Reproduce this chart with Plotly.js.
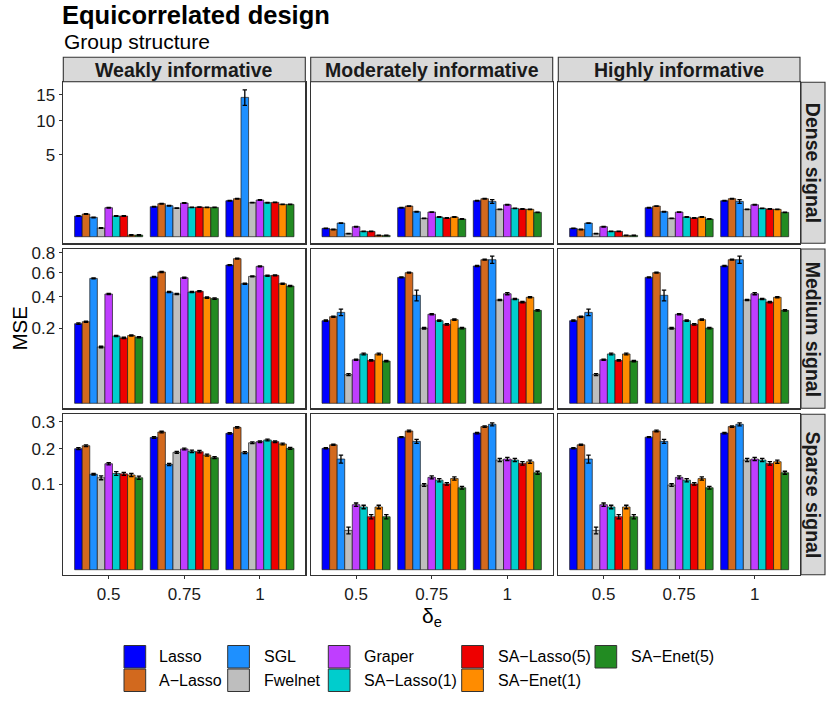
<!DOCTYPE html>
<html>
<head>
<meta charset="utf-8">
<script src="https://cdn.plot.ly/plotly-3.0.1.min.js"></script>
<style>html,body{margin:0;padding:0;background:#fff;}#chart{width:830px;height:703px;}</style>
</head>
<body>
<div id="chart"></div>
<script>
// ---------------- data ----------------
const deltas = ["0.5", "0.75", "1"];
const methods = ["Lasso", "A\u2212Lasso", "SGL", "Fwelnet", "Graper", "SA\u2212Lasso(1)", "SA\u2212Lasso(5)", "SA\u2212Enet(1)", "SA\u2212Enet(5)"];
const colors = ["#0000FF", "#D2691E", "#1E90FF", "#BEBEBE", "#BF3EFF", "#00CDCD", "#EE0000", "#FF8C00", "#228B22"];
const colLabels = ["Weakly informative", "Moderately informative", "Highly informative"];
const rowLabels = ["Dense signal", "Medium signal", "Sparse signal"];
const rowTicks = [[5, 10, 15], [0.2, 0.4, 0.6, 0.8], [0.1, 0.2, 0.3]];
const rowTickText = [["5", "10", "15"], ["0.2", "0.4", "0.6", "0.8"], ["0.1", "0.2", "0.3"]];

// each panel: rows = delta (0.5, 0.75, 1), columns = methods
const weakDense = [
  [0.319, 0.384, 0.279, 0.056, 0.628, 0.319, 0.319, 0.002, 0.002],
  [0.672, 0.813, 0.717, 0.613, 0.846, 0.642, 0.657, 0.642, 0.642],
  [0.968, 1.078, 14.49, 0.863, 1.004, 0.863, 0.880, 0.780, 0.780]];
const weakDenseErr = [
  [0.010, 0.012, 0.010, 0.004, 0.012, 0.010, 0.010, 0.001, 0.001],
  [0.012, 0.014, 0.012, 0.010, 0.014, 0.012, 0.012, 0.012, 0.012],
  [0.015, 0.016, 1.60, 0.012, 0.016, 0.014, 0.014, 0.012, 0.012]];
const weakMedium = [
  [0.224, 0.235, 0.551, 0.112, 0.422, 0.160, 0.151, 0.162, 0.154],
  [0.563, 0.609, 0.437, 0.422, 0.557, 0.437, 0.443, 0.394, 0.387],
  [0.675, 0.739, 0.505, 0.569, 0.662, 0.575, 0.578, 0.505, 0.486]];
const weakMediumErr = [
  [0.004, 0.004, 0.005, 0.003, 0.004, 0.003, 0.003, 0.003, 0.003],
  [0.005, 0.005, 0.005, 0.005, 0.005, 0.005, 0.005, 0.005, 0.005],
  [0.005, 0.005, 0.005, 0.005, 0.005, 0.005, 0.005, 0.005, 0.005]];
const weakSparse = [
  [0.201, 0.211, 0.125, 0.116, 0.154, 0.127, 0.126, 0.123, 0.116],
  [0.240, 0.260, 0.152, 0.189, 0.200, 0.192, 0.191, 0.180, 0.172],
  [0.255, 0.278, 0.188, 0.221, 0.225, 0.231, 0.225, 0.217, 0.202]];
const weakSparseErr = [
  [0.003, 0.003, 0.002, 0.005, 0.003, 0.005, 0.004, 0.004, 0.004],
  [0.003, 0.003, 0.003, 0.003, 0.003, 0.004, 0.004, 0.003, 0.003],
  [0.003, 0.003, 0.003, 0.003, 0.003, 0.003, 0.003, 0.003, 0.003]];

const modDense = [
  [0.052, 0.040, 0.139, 0.0067, 0.075, 0.021, 0.021, 0.0013, 0.0013],
  [0.628, 0.702, 0.467, 0.251, 0.454, 0.289, 0.260, 0.289, 0.233],
  [0.968, 1.078, 0.932, 0.558, 0.764, 0.599, 0.571, 0.558, 0.442]];
const modDenseErr = [
  [0.004, 0.004, 0.006, 0.001, 0.005, 0.002, 0.002, 0.0005, 0.0005],
  [0.012, 0.012, 0.012, 0.008, 0.010, 0.008, 0.008, 0.008, 0.008],
  [0.015, 0.015, 0.10, 0.012, 0.015, 0.012, 0.012, 0.012, 0.012]];
const modMedium = [
  [0.241, 0.265, 0.292, 0.029, 0.067, 0.086, 0.065, 0.086, 0.063],
  [0.560, 0.603, 0.412, 0.199, 0.280, 0.241, 0.220, 0.247, 0.200],
  [0.666, 0.728, 0.728, 0.377, 0.424, 0.384, 0.362, 0.397, 0.305]];
const modMediumErr = [
  [0.004, 0.004, 0.021, 0.002, 0.002, 0.003, 0.002, 0.003, 0.002],
  [0.005, 0.005, 0.041, 0.004, 0.004, 0.004, 0.004, 0.004, 0.004],
  [0.005, 0.005, 0.037, 0.005, 0.008, 0.005, 0.005, 0.005, 0.005]];
const modSparse = [
  [0.202, 0.214, 0.168, 0.0212, 0.058, 0.054, 0.0385, 0.054, 0.0385],
  [0.241, 0.264, 0.226, 0.0983, 0.117, 0.110, 0.101, 0.114, 0.0922],
  [0.256, 0.281, 0.290, 0.165, 0.168, 0.165, 0.155, 0.160, 0.129]];
const modSparseErr = [
  [0.002, 0.002, 0.012, 0.0036, 0.003, 0.003, 0.003, 0.003, 0.003],
  [0.002, 0.003, 0.007, 0.003, 0.004, 0.004, 0.003, 0.004, 0.003],
  [0.003, 0.003, 0.006, 0.005, 0.005, 0.005, 0.005, 0.005, 0.004]];

const highDense = [
  [0.052, 0.040, 0.139, 0.0067, 0.075, 0.021, 0.021, 0.0013, 0.0013],
  [0.628, 0.702, 0.467, 0.251, 0.454, 0.289, 0.260, 0.289, 0.233],
  [0.968, 1.078, 0.932, 0.558, 0.764, 0.599, 0.571, 0.558, 0.442]];
const highDenseErr = [
  [0.004, 0.004, 0.006, 0.001, 0.005, 0.002, 0.002, 0.0005, 0.0005],
  [0.012, 0.012, 0.012, 0.008, 0.010, 0.008, 0.008, 0.008, 0.008],
  [0.015, 0.015, 0.10, 0.012, 0.015, 0.012, 0.012, 0.012, 0.012]];
const highMedium = [
  [0.241, 0.265, 0.292, 0.029, 0.067, 0.086, 0.065, 0.086, 0.063],
  [0.560, 0.603, 0.412, 0.199, 0.280, 0.241, 0.220, 0.247, 0.200],
  [0.666, 0.728, 0.728, 0.377, 0.424, 0.384, 0.362, 0.397, 0.305]];
const highMediumErr = [
  [0.004, 0.004, 0.021, 0.002, 0.002, 0.003, 0.002, 0.003, 0.002],
  [0.005, 0.005, 0.041, 0.004, 0.004, 0.004, 0.004, 0.004, 0.004],
  [0.005, 0.005, 0.037, 0.005, 0.008, 0.005, 0.005, 0.005, 0.005]];
const highSparse = [
  [0.202, 0.214, 0.168, 0.0212, 0.058, 0.054, 0.0385, 0.054, 0.0385],
  [0.241, 0.264, 0.226, 0.0983, 0.117, 0.110, 0.101, 0.114, 0.0922],
  [0.256, 0.281, 0.290, 0.165, 0.168, 0.165, 0.155, 0.160, 0.129]];
const highSparseErr = [
  [0.002, 0.002, 0.012, 0.0036, 0.003, 0.003, 0.003, 0.003, 0.003],
  [0.002, 0.003, 0.007, 0.003, 0.004, 0.004, 0.003, 0.004, 0.003],
  [0.003, 0.003, 0.006, 0.005, 0.005, 0.005, 0.005, 0.005, 0.004]];

// ---------------- layout geometry ----------------
const W = 830, H = 703;
const FONT = "Liberation Sans, Arial, Helvetica, sans-serif";
const colPx = [[63.3, 305.3], [310.7, 552.7], [558.3, 800]];
const rowPx = [[82.3, 243.3], [249, 408.3], [414.3, 574.7]];
const rowRange = [[-0.180, 4.219], [-0.0297, 0.917], [-0.0185, 0.5756]];

const panels = [[weakDense, modDense, highDense], [weakMedium, modMedium, highMedium], [weakSparse, modSparse, highSparse]];
const panelErrs = [[weakDenseErr, modDenseErr, highDenseErr], [weakMediumErr, modMediumErr, highMediumErr], [weakSparseErr, modSparseErr, highSparseErr]];

const traces = [];
const layout = {
  width: W, height: H,
  margin: {l: 0, r: 0, t: 0, b: 0},
  paper_bgcolor: "#ffffff", plot_bgcolor: "#ffffff",
  font: {family: FONT, color: "#1a1a1a"},
  barmode: "group", bargap: 0.1, bargroupgap: 0,
  showlegend: false,
  title: {text: "<b>Equicorrelated design</b>", x: 62 / W, xanchor: "left", xref: "paper",
          y: 1 - 15 / H, yanchor: "middle", yref: "container",
          font: {family: FONT, size: 25.5, color: "#000"}},
  shapes: [], annotations: []
};

for (let r = 0; r < 3; r++) {
  for (let c = 0; c < 3; c++) {
    const n = r * 3 + c + 1;
    const xa = n === 1 ? "x" : "x" + n;
    const ya = n === 1 ? "y" : "y" + n;
    const data = panels[r][c], err = panelErrs[r][c];
    methods.forEach((m, k) => {
      const vals = deltas.map((d, i) => data[i][k]);
      const es = deltas.map((d, i) => err[i][k]);
      traces.push({
        type: "bar", name: m,
        x: [0, 1, 2],
        y: vals.map(v => Math.sqrt(v)),
        xaxis: xa, yaxis: ya,
        marker: {color: colors[k], line: {color: "#1a1a1a", width: 0.7}},
        error_y: {type: "data", symmetric: false,
          array: vals.map((v, i) => Math.sqrt(v + es[i]) - Math.sqrt(v)),
          arrayminus: vals.map((v, i) => Math.sqrt(v) - Math.sqrt(Math.max(v - es[i], 0))),
          color: "#000", thickness: 1.3, width: 2.2},
        hoverinfo: "skip", showlegend: false
      });
    });
    const xk = n === 1 ? "xaxis" : "xaxis" + n;
    const yk = n === 1 ? "yaxis" : "yaxis" + n;
    layout[xk] = {
      domain: [colPx[c][0] / W, colPx[c][1] / W], anchor: ya,
      range: [-0.6, 2.6], fixedrange: true,
      tickvals: [0, 1, 2], ticktext: deltas,
      showticklabels: r === 2, ticks: r === 2 ? "outside" : "", ticklen: 3.5, tickwidth: 1, tickcolor: "#333",
      tickfont: {family: FONT, size: 17, color: "#1a1a1a"},
      showgrid: false, zeroline: false,
      showline: true, mirror: true, linecolor: "#333", linewidth: 1.2
    };
    layout[yk] = {
      domain: [1 - rowPx[r][1] / H, 1 - rowPx[r][0] / H], anchor: xa,
      range: rowRange[r], fixedrange: true,
      tickvals: rowTicks[r].map(v => Math.sqrt(v)), ticktext: rowTickText[r],
      showticklabels: c === 0, ticks: c === 0 ? "outside" : "", ticklen: 3.5, tickwidth: 1, tickcolor: "#333",
      tickfont: {family: FONT, size: 17, color: "#1a1a1a"},
      showgrid: false, zeroline: false,
      showline: true, mirror: true, linecolor: "#333", linewidth: 1.2
    };
  }
}

// facet strips (top)
colLabels.forEach((lab, c) => {
  layout.shapes.push({type: "rect", xref: "paper", yref: "paper",
    x0: colPx[c][0] / W, x1: colPx[c][1] / W, y0: 1 - 81.7 / H, y1: 1 - 57.3 / H,
    fillcolor: "#D9D9D9", line: {color: "#333", width: 1.1}});
  layout.annotations.push({xref: "paper", yref: "paper",
    x: (colPx[c][0] + colPx[c][1]) / 2 / W, y: 1 - 69.5 / H, xanchor: "center", yanchor: "middle",
    text: "<b>" + lab + "</b>", showarrow: false, font: {family: FONT, size: 19.5, color: "#1a1a1a"}});
});
// facet strips (right)
rowLabels.forEach((lab, r) => {
  layout.shapes.push({type: "rect", xref: "paper", yref: "paper",
    x0: 801 / W, x1: 825 / W, y0: 1 - rowPx[r][1] / H, y1: 1 - rowPx[r][0] / H,
    fillcolor: "#D9D9D9", line: {color: "#333", width: 1.1}});
  layout.annotations.push({xref: "paper", yref: "paper",
    x: 813 / W, y: 1 - (rowPx[r][0] + rowPx[r][1]) / 2 / H, xanchor: "center", yanchor: "middle",
    text: "<b>" + lab + "</b>", textangle: 90, showarrow: false, font: {family: FONT, size: 19.5, color: "#1a1a1a"}});
});

// subtitle, axis titles
layout.annotations.push({xref: "paper", yref: "paper", x: 62 / W, y: 1 - 41.5 / H, xanchor: "left", yanchor: "middle",
  text: "Group structure", showarrow: false, font: {family: FONT, size: 21, color: "#000"}});
layout.annotations.push({xref: "paper", yref: "paper", x: 19 / W, y: 1 - 328.5 / H, xanchor: "center", yanchor: "middle",
  text: "MSE", textangle: -90, showarrow: false, font: {family: FONT, size: 20.5, color: "#000"}});
layout.annotations.push({xref: "paper", yref: "paper", x: 431.6 / W, y: 1 - 617 / H, xanchor: "center", yanchor: "middle",
  text: "\u03B4<sub>e</sub>", showarrow: false, font: {family: FONT, size: 21, color: "#000"}});

// legend (column-wise, 2 rows)
const legKeyX = [124, 227.7, 328.3, 461.7, 595];
const legTextX = [157.3, 261.7, 362.3, 495.7, 629];
const legRowY = [[645.5, 668], [669, 691.5]];
methods.forEach((m, k) => {
  const col = Math.floor(k / 2), row = k % 2;
  layout.shapes.push({type: "rect", xref: "paper", yref: "paper",
    x0: legKeyX[col] / W, x1: (legKeyX[col] + 21.7) / W,
    y0: 1 - legRowY[row][1] / H, y1: 1 - legRowY[row][0] / H,
    fillcolor: colors[k], line: {color: "#333", width: 1}});
  layout.annotations.push({xref: "paper", yref: "paper",
    x: legTextX[col] / W, y: 1 - (legRowY[row][0] + legRowY[row][1]) / 2 / H, xanchor: "left", yanchor: "middle",
    text: m, showarrow: false, font: {family: FONT, size: 16, color: "#000"}});
});

Plotly.newPlot("chart", traces, layout, {staticPlot: true, displayModeBar: false});
</script>
</body>
</html>
